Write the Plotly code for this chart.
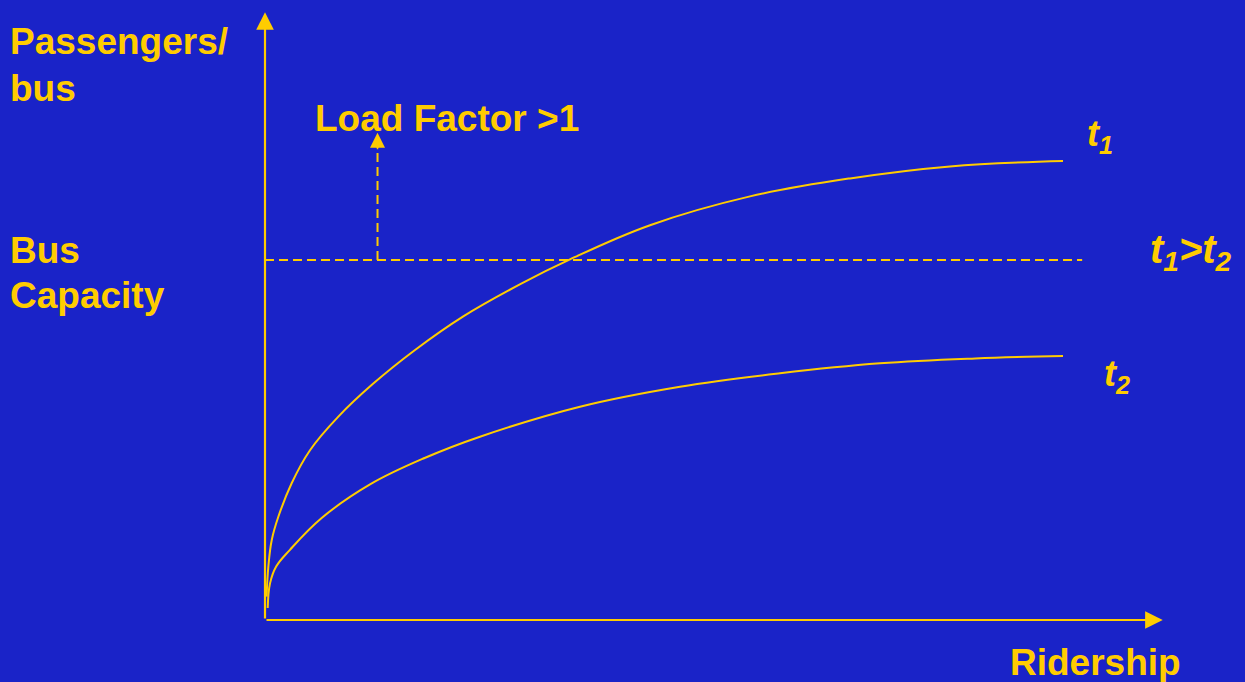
import plotly.graph_objects as go

# ---- data ----
ridership_t1 = [0.02, 0.042, 0.084, 0.167, 0.334, 0.564, 0.919, 1.357, 1.88, 2.485,
                3.217, 3.822, 4.825, 6.078, 7.331, 8.584, 10.0]
load_t1 = [3.9, 8.9, 13.3, 17.2, 22.8, 28.3, 33.9, 39.4, 45.0, 50.6,
           56.1, 60.1, 65.8, 70.6, 73.6, 75.6, 76.5]
ridership_t2 = [0.034, 0.063, 0.14, 0.313, 0.71, 1.316, 2.0, 2.694, 3.947, 5.201,
                6.454, 7.707, 8.9, 10.0]
load_t2 = [2.0, 6.1, 8.9, 11.7, 17.0, 22.6, 27.0, 30.55, 35.55, 38.88,
           41.12, 42.78, 43.6, 44.0]
bus_capacity = 60.0
capacity_line_x = [0.0, 10.24]
load_factor_arrow_x = 1.41
load_factor_arrow_top = 81.2
x_axis_end = 11.25
y_axis_end = 101.3

BG = "#1A23C8"
YEL = "#FFCC00"
FONT = "Liberation Sans, Arial, Helvetica, sans-serif"
W, H = 1245, 682

fig = go.Figure()

curve_line = dict(color=YEL, width=2, shape="spline", smoothing=1.1)
fig.add_trace(go.Scatter(x=ridership_t1, y=load_t1, mode="lines",
                         line=curve_line, hoverinfo="skip"))
fig.add_trace(go.Scatter(x=ridership_t2, y=load_t2, mode="lines",
                         line=curve_line, hoverinfo="skip"))
# capacity dashed line
fig.add_trace(go.Scatter(x=capacity_line_x, y=[bus_capacity, bus_capacity], mode="lines",
                         line=dict(color=YEL, width=2, dash="9px,5px"), hoverinfo="skip"))
# load factor dashed vertical
fig.add_trace(go.Scatter(x=[load_factor_arrow_x, load_factor_arrow_x],
                         y=[bus_capacity, load_factor_arrow_top - 1.5], mode="lines",
                         line=dict(color=YEL, width=2, dash="9px,5px"), hoverinfo="skip"))

annotations = []
# axes arrows
annotations.append(dict(x=x_axis_end, y=0, ax=0, ay=0, xref="x", yref="y", axref="x", ayref="y",
                        showarrow=True, arrowhead=2, arrowsize=1.6, arrowwidth=2.2,
                        arrowcolor=YEL, text=""))
annotations.append(dict(x=0, y=y_axis_end, ax=0, ay=0, xref="x", yref="y", axref="x", ayref="y",
                        showarrow=True, arrowhead=2, arrowsize=1.6, arrowwidth=2.2,
                        arrowcolor=YEL, text=""))
annotations.append(dict(x=load_factor_arrow_x, y=load_factor_arrow_top,
                        ax=load_factor_arrow_x, ay=load_factor_arrow_top - 3,
                        xref="x", yref="y", axref="x", ayref="y",
                        showarrow=True, arrowhead=2, arrowsize=2.0, arrowwidth=1.5,
                        arrowcolor=YEL, text=""))


def label(text, px, py, size=37, xanchor="left"):
    annotations.append(dict(text=text, x=px / W, y=1 - py / H, xref="paper", yref="paper",
                            xanchor=xanchor, yanchor="middle", showarrow=False,
                            font=dict(family=FONT, size=size, color=YEL)))


label("<b>Passengers/</b>", 8, 42)
label("<b>bus</b>", 8, 88)
label("<b>Bus</b>", 8, 250)
label("<b>Capacity</b>", 8, 295)
label("<b>Load Factor >1</b>", 313, 118)
label("<b>Ridership</b>", 1008, 662)
label("<b><i>t<sub>1</sub></i></b>", 1085, 136, size=36)
label("<b><i>t<sub>2</sub></i></b>", 1102, 376, size=36)
label("<b><i>t<sub>1</sub>>t<sub>2</sub></i></b>", 1148, 252, size=40)

# ranges so that origin sits at pixel (265, 620)
xs = 79.8
ys = 6.0
fig.update_layout(
    width=W, height=H,
    margin=dict(l=0, r=0, t=0, b=0),
    paper_bgcolor=BG, plot_bgcolor=BG,
    showlegend=False,
    xaxis=dict(range=[-265 / xs, (W - 265) / xs], visible=False, fixedrange=True),
    yaxis=dict(range=[-(H - 620) / ys, 620 / ys], visible=False, fixedrange=True),
    annotations=annotations,
)

fig.write_html("out.html", config={"displayModeBar": False})
